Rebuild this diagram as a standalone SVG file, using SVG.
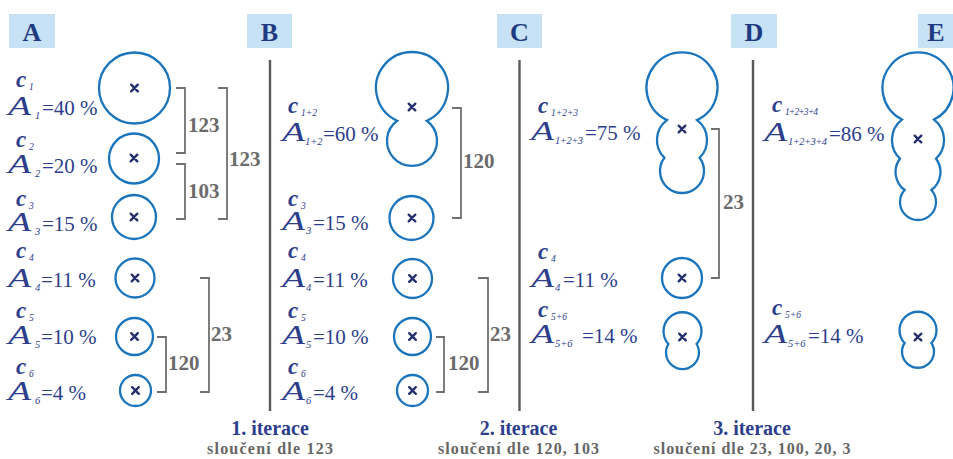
<svg xmlns="http://www.w3.org/2000/svg" width="953" height="459" viewBox="0 0 953 459">
<style>
.hdr{fill:#c8e2f5}
.hl{font-family:"Liberation Serif",serif;font-weight:bold;font-size:26px;fill:#1f3a80;text-anchor:middle}
.blob{fill:none;stroke:#1b75bc;stroke-width:2.3}
.x{fill:none;stroke:#25306e;stroke-width:2.4;stroke-linecap:round}
.br{fill:none;stroke:#707070;stroke-width:1.8}
.bl{font-family:"Liberation Serif",serif;font-weight:bold;font-size:21px;fill:#6b6b6b}
.sep{stroke:#5a5a5a;stroke-width:2.4}
.c{font-family:"Liberation Serif",serif;font-weight:bold;font-style:italic;font-size:23px;fill:#2c3e8c}
.a{font-family:"Liberation Serif",serif;font-style:italic;font-size:28px;fill:#2c3e8c}
.s{font-family:"Liberation Serif",serif;font-style:italic;font-size:10.5px;fill:#2c3e8c}
.cs{font-family:"Liberation Serif",serif;font-style:italic;font-size:9.5px;fill:#2c3e8c}
.v{font-family:"Liberation Serif",serif;font-size:21px;fill:#2c3e8c}
.t1{font-family:"Liberation Serif",serif;font-weight:bold;font-size:20px;fill:#2c3e8c;text-anchor:middle}
.t2{font-family:"Liberation Serif",serif;font-weight:bold;font-size:16px;fill:#666;text-anchor:middle}
</style>
<defs>
<path id="x" class="x" d="M-3.3-3.3L3.3 3.3M3.3-3.3L-3.3 3.3"/>
</defs>

<g id="headers">
<g id="hA"><rect class="hdr" x="9" y="14" width="46" height="34"/><text class="hl" x="32" y="41">A</text></g>
<g id="hB"><rect class="hdr" x="247" y="14" width="45" height="34"/><text class="hl" x="269.5" y="41">B</text></g>
<g id="hC"><rect class="hdr" x="497" y="14" width="45" height="34"/><text class="hl" x="519.5" y="41">C</text></g>
<g id="hD"><rect class="hdr" x="731" y="14" width="46" height="34"/><text class="hl" x="754" y="41">D</text></g>
<g id="hE"><rect class="hdr" x="918" y="14" width="40" height="34"/><text class="hl" x="936" y="41">E</text></g>
</g>

<g id="separators">
<line class="sep" x1="270" y1="60" x2="270" y2="411"/>
<line class="sep" x1="519.5" y1="60" x2="519.5" y2="411"/>
<line class="sep" x1="753" y1="60" x2="753" y2="411"/>
</g>

<!-- Column A -->
<g id="A-c1"><circle class="blob" cx="134.5" cy="88" r="35.5"/><use href="#x" x="134.5" y="88"/></g>
<g id="A-c2"><circle class="blob" cx="134" cy="158.5" r="25"/><use href="#x" x="134" y="158"/></g>
<g id="A-c3"><circle class="blob" cx="134" cy="217" r="22"/><use href="#x" x="134" y="217"/></g>
<g id="A-c4"><circle class="blob" cx="135" cy="278" r="19.5"/><use href="#x" x="135" y="278"/></g>
<g id="A-c5"><circle class="blob" cx="134.5" cy="336.5" r="18.5"/><use href="#x" x="134.5" y="336.5"/></g>
<g id="A-c6"><circle class="blob" cx="135.5" cy="390.5" r="15.5"/><use href="#x" x="135.5" y="390.5"/></g>

<g id="A-l1"><text class="c" x="16" y="87">c</text><text class="cs" x="29" y="90">1</text><text class="a" x="8" y="115" textLength="23" lengthAdjust="spacingAndGlyphs">A</text><text class="s" x="35" y="119">1</text><text class="v" x="42" y="115">=40 %</text></g>
<g id="A-l2"><text class="c" x="16" y="147">c</text><text class="cs" x="29" y="150">2</text><text class="a" x="8" y="173" textLength="23" lengthAdjust="spacingAndGlyphs">A</text><text class="s" x="35" y="177">2</text><text class="v" x="42" y="173">=20 %</text></g>
<g id="A-l3"><text class="c" x="16" y="206">c</text><text class="cs" x="29" y="209">3</text><text class="a" x="8" y="231" textLength="23" lengthAdjust="spacingAndGlyphs">A</text><text class="s" x="35" y="235">3</text><text class="v" x="42" y="231">=15 %</text></g>
<g id="A-l4"><text class="c" x="16" y="258">c</text><text class="cs" x="29" y="261">4</text><text class="a" x="8" y="287" textLength="23" lengthAdjust="spacingAndGlyphs">A</text><text class="s" x="35" y="291">4</text><text class="v" x="41" y="287">=11 %</text></g>
<g id="A-l5"><text class="c" x="16" y="318">c</text><text class="cs" x="29" y="321">5</text><text class="a" x="8" y="344" textLength="23" lengthAdjust="spacingAndGlyphs">A</text><text class="s" x="35" y="348">5</text><text class="v" x="41" y="344">=10 %</text></g>
<g id="A-l6"><text class="c" x="16" y="374">c</text><text class="cs" x="29" y="377">6</text><text class="a" x="8" y="400" textLength="23" lengthAdjust="spacingAndGlyphs">A</text><text class="s" x="35" y="404">6</text><text class="v" x="41" y="400">=4 %</text></g>

<!-- Column B -->
<g id="B-c12"><path class="blob" d="M397.2 120.8A36 36 0 1 1 426.8 120.8A25 25 0 1 1 397.2 120.8Z"/><use href="#x" x="412" y="107"/></g>
<g id="B-c3"><circle class="blob" cx="411.5" cy="218" r="22"/><use href="#x" x="412" y="218"/></g>
<g id="B-c4"><circle class="blob" cx="412.5" cy="278.5" r="19.5"/><use href="#x" x="412.5" y="278.5"/></g>
<g id="B-c5"><circle class="blob" cx="412.5" cy="336.5" r="18.5"/><use href="#x" x="412.5" y="336.5"/></g>
<g id="B-c6"><circle class="blob" cx="412.5" cy="390.5" r="15.5"/><use href="#x" x="412.5" y="390.5"/></g>

<g id="B-l12"><text class="c" x="288" y="113">c</text><text class="cs" x="301" y="116">1+2</text><text class="a" x="282" y="141" textLength="23" lengthAdjust="spacingAndGlyphs">A</text><text class="s" x="305" y="145">1+2</text><text class="v" x="323" y="141">=60 %</text></g>
<g id="B-l3"><text class="c" x="288" y="206">c</text><text class="cs" x="301" y="209">3</text><text class="a" x="282" y="230" textLength="23" lengthAdjust="spacingAndGlyphs">A</text><text class="s" x="306" y="234">3</text><text class="v" x="313" y="230">=15 %</text></g>
<g id="B-l4"><text class="c" x="288" y="258">c</text><text class="cs" x="301" y="261">4</text><text class="a" x="282" y="287" textLength="23" lengthAdjust="spacingAndGlyphs">A</text><text class="s" x="306" y="291">4</text><text class="v" x="313" y="287">=11 %</text></g>
<g id="B-l5"><text class="c" x="288" y="318">c</text><text class="cs" x="301" y="321">5</text><text class="a" x="282" y="344" textLength="23" lengthAdjust="spacingAndGlyphs">A</text><text class="s" x="306" y="348">5</text><text class="v" x="313" y="344">=10 %</text></g>
<g id="B-l6"><text class="c" x="288" y="374">c</text><text class="cs" x="301" y="377">6</text><text class="a" x="282" y="400" textLength="23" lengthAdjust="spacingAndGlyphs">A</text><text class="s" x="306" y="404">6</text><text class="v" x="313" y="400">=4 %</text></g>

<!-- Column C -->
<g id="C-c123"><path class="blob" d="M666.9 120.1A35.5 35.5 0 1 1 697.1 120.1A25 25 0 0 1 699.6 157.8A22 22 0 1 1 664.4 157.8A25 25 0 0 1 666.9 120.1Z"/><use href="#x" x="682" y="129"/></g>
<g id="C-c4"><circle class="blob" cx="682" cy="278" r="20"/><use href="#x" x="682" y="278"/></g>
<g id="C-c56"><path class="blob" d="M668.4 344A19 19 0 1 1 696.6 344A16.5 16.5 0 1 1 668.4 344Z"/><use href="#x" x="682.5" y="337"/></g>

<g id="C-l123"><text class="c" x="538" y="113">c</text><text class="cs" x="551" y="116">1+2+3</text><text class="a" x="531" y="140" textLength="23" lengthAdjust="spacingAndGlyphs">A</text><text class="s" x="555" y="144" textLength="28">1+2+3</text><text class="v" x="585" y="140">=75 %</text></g>
<g id="C-l4"><text class="c" x="538" y="259">c</text><text class="cs" x="551" y="262">4</text><text class="a" x="531" y="287" textLength="23" lengthAdjust="spacingAndGlyphs">A</text><text class="s" x="555" y="291">4</text><text class="v" x="563" y="287">=11 %</text></g>
<g id="C-l56"><text class="c" x="538" y="317">c</text><text class="cs" x="551" y="320">5+6</text><text class="a" x="531" y="343" textLength="23" lengthAdjust="spacingAndGlyphs">A</text><text class="s" x="555" y="347">5+6</text><text class="v" x="582" y="343">=14 %</text></g>

<!-- Column E -->
<g id="E-c1234"><path class="blob" d="M901.9 119.6A35.5 35.5 0 1 1 934.1 119.6A26 26 0 0 1 936.1 158.7A22.5 22.5 0 0 1 931.4 190A18 18 0 1 1 904.6 190A22.5 22.5 0 0 1 899.9 158.7A26 26 0 0 1 901.9 119.6Z"/><use href="#x" x="918" y="139"/></g>
<g id="E-c56"><path class="blob" d="M904.6 343A18.5 18.5 0 1 1 931.4 343A16 16 0 1 1 904.6 343Z"/><use href="#x" x="918" y="337"/></g>

<g id="D-l1234"><text class="c" x="772" y="112">c</text><text class="cs" x="785" y="115" textLength="33">1+2+3+4</text><text class="a" x="764" y="141" textLength="23" lengthAdjust="spacingAndGlyphs">A</text><text class="s" x="788" y="145" textLength="39">1+2+3+4</text><text class="v" x="829" y="141">=86 %</text></g>
<g id="D-l56"><text class="c" x="772" y="315">c</text><text class="cs" x="785" y="318">5+6</text><text class="a" x="764" y="343" textLength="23" lengthAdjust="spacingAndGlyphs">A</text><text class="s" x="788" y="347">5+6</text><text class="v" x="808" y="343">=14 %</text></g>

<!-- Brackets -->
<g id="connectors">
<path class="br" d="M176 88H185V153H176"/>
<path class="br" d="M176 164H185V219H176"/>
<path class="br" d="M218 88H227V219H218"/>
<path class="br" d="M157 337H166V392H157"/>
<path class="br" d="M200 278H209V392H200"/>
<path class="br" d="M452 108H461V218H452"/>
<path class="br" d="M436 337H444V392H436"/>
<path class="br" d="M478 278H488V392H478"/>
<path class="br" d="M711 129H719V278H711"/>
</g>
<g id="bracket-labels">
<text class="bl" x="188" y="132">123</text>
<text class="bl" x="188" y="198">103</text>
<text class="bl" x="229" y="166">123</text>
<text class="bl" x="168" y="370">120</text>
<text class="bl" x="211" y="341">23</text>
<text class="bl" x="463" y="168">120</text>
<text class="bl" x="448" y="370">120</text>
<text class="bl" x="490" y="341">23</text>
<text class="bl" x="723" y="209">23</text>
</g>

<g id="iterations">
<text class="t1" x="270" y="435">1. iterace</text>
<text class="t2" x="270" y="454" textLength="126">sloučení dle 123</text>
<text class="t1" x="518.5" y="435">2. iterace</text>
<text class="t2" x="518.5" y="454" textLength="161">sloučení dle 120, 103</text>
<text class="t1" x="752" y="435">3. iterace</text>
<text class="t2" x="752" y="454" textLength="197">sloučení dle 23, 100, 20, 3</text>
</g>
</svg>
